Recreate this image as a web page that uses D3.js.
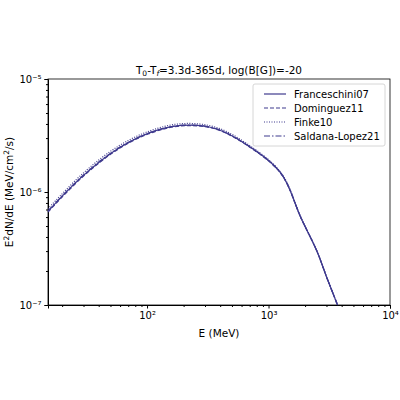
<!DOCTYPE html>
<html><head><meta charset="utf-8">
<script src="https://cdn.jsdelivr.net/npm/d3@7"></script>
<style>body{margin:0;background:#fff}text{font-family:"DejaVu Sans",sans-serif}</style>
</head><body><div id="chart"></div>
<script>
const energies = [15.3, 28.6, 54.6, 102, 190, 363, 676, 1268, 1850, 2500, 3000, 3700];
const franceschini = [6.75e-7, 1.34e-6, 2.33e-6, 3.3e-6, 3.88e-6, 3.65e-6, 2.58e-6, 1.46e-6, 5.9e-7, 3.0e-7, 1.78e-7, 1e-7];
const dominguez = [6.65e-7, 1.32e-6, 2.3e-6, 3.26e-6, 3.84e-6, 3.62e-6, 2.56e-6, 1.45e-6, 5.9e-7, 3.0e-7, 1.78e-7, 1e-7];
const finke = [7.1e-7, 1.41e-6, 2.44e-6, 3.43e-6, 4.02e-6, 3.76e-6, 2.64e-6, 1.48e-6, 5.95e-7, 3.0e-7, 1.78e-7, 1e-7];
const saldana = [6.8e-7, 1.35e-6, 2.34e-6, 3.31e-6, 3.89e-6, 3.66e-6, 2.58e-6, 1.46e-6, 5.9e-7, 3.0e-7, 1.78e-7, 1e-7];
const series = [
  { name: "Franceschini07", values: franceschini, dash: null },
  { name: "Dominguez11", values: dominguez, dash: "4,2" },
  { name: "Finke10", values: finke, dash: "1,1.5" },
  { name: "Saldana-Lopez21", values: saldana, dash: "6,2,1.5,2" },
];
const color = "#3f3a8e";

const W = 400, H = 400;
const m = { left: 48, right: 10, top: 79, bottom: 95 };
const svg = d3.select("#chart").append("svg").attr("width", W).attr("height", H);
const x = d3.scaleLog().domain([15.3, 1e4]).range([m.left, W - m.right]);
const y = d3.scaleLog().domain([1e-7, 1e-5]).range([H - m.bottom, m.top]);

const sup = { "-": "⁻", "0": "⁰", "1": "¹", "2": "²", "3": "³", "4": "⁴", "5": "⁵", "6": "⁶", "7": "⁷" };
const fmt = (d) => {
  const e = Math.round(Math.log10(d));
  return Math.abs(Math.log10(d) - e) < 1e-6 ? "10" + String(e).split("").map((c) => sup[c]).join("") : "";
};

const xAxis = svg.append("g").attr("transform", `translate(0,${H - m.bottom})`)
  .call(d3.axisBottom(x).ticks(10).tickFormat(fmt).tickSize(3.5));
xAxis.selectAll(".tick line").attr("y2", (d) => (fmt(d) ? 3.5 : 2));
const yAxis = svg.append("g").attr("transform", `translate(${m.left},0)`)
  .call(d3.axisLeft(y).ticks(10).tickFormat(fmt).tickSize(3.5));
yAxis.selectAll(".tick line").attr("x2", (d) => (fmt(d) ? -3.5 : -2));
svg.selectAll(".tick text").attr("font-size", 10).attr("fill", "#000");
svg.append("rect").attr("x", m.left).attr("y", m.top)
  .attr("width", W - m.left - m.right).attr("height", H - m.top - m.bottom)
  .attr("fill", "none").attr("stroke", "#000").attr("stroke-width", 0.8);

const line = d3.line().x((d) => x(d[0])).y((d) => y(d[1])).curve(d3.curveCatmullRom);
series.forEach((s) => {
  svg.append("path").datum(energies.map((e, i) => [e, s.values[i]]))
    .attr("d", line).attr("fill", "none").attr("stroke", color)
    .attr("stroke-width", 1.2).attr("stroke-dasharray", s.dash);
});

svg.append("text").attr("x", (m.left + W - m.right) / 2).attr("y", m.top - 5)
  .attr("text-anchor", "middle").attr("font-size", 10.5)
  .html('T<tspan font-size="7.5" dy="2">0</tspan><tspan dy="-2">-T</tspan><tspan font-size="7.5" dy="2" font-style="italic">f</tspan><tspan dy="-2">=3.3d-365d, log(B[G])=-20</tspan>');
svg.append("text").attr("x", (m.left + W - m.right) / 2).attr("y", H - m.bottom + 32)
  .attr("text-anchor", "middle").attr("font-size", 10.5).text("E (MeV)");
svg.append("text").attr("transform", `translate(13,${(m.top + H - m.bottom) / 2}) rotate(-90)`)
  .attr("text-anchor", "middle").attr("font-size", 10.5)
  .html('E<tspan font-size="7.5" dy="-4">2</tspan><tspan dy="4">dN/dE (MeV/cm</tspan><tspan font-size="7.5" dy="-4">2</tspan><tspan dy="4">/s)</tspan>');

const lg = svg.append("g").attr("transform", "translate(253,84)");
lg.append("rect").attr("width", 132).attr("height", 62).attr("rx", 2)
  .attr("fill", "#fff").attr("stroke", "#ccc").attr("stroke-width", 0.8);
series.forEach((s, i) => {
  const yy = 10 + i * 14;
  lg.append("line").attr("x1", 11).attr("x2", 33).attr("y1", yy).attr("y2", yy)
    .attr("stroke", color).attr("stroke-width", 1.2).attr("stroke-dasharray", s.dash);
  lg.append("text").attr("x", 41).attr("y", yy + 3.5).attr("font-size", 10).text(s.name);
});
</script></body></html>
